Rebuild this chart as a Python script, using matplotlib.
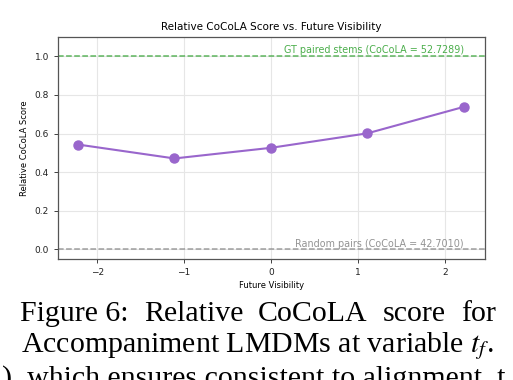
import matplotlib
matplotlib.use('Agg')
import matplotlib.pyplot as plt

plt.rcParams['mathtext.fontset'] = 'stix'

future_vis = [-2.22, -1.11, 0.0, 1.11, 2.22]
rel_score = [0.543, 0.471, 0.526, 0.601, 0.738]
gt_label = 'GT paired stems (CoCoLA = 52.7289)'
rand_label = 'Random pairs (CoCoLA = 42.7010)'
caption_1 = ['Figure 6:', 'Relative', 'CoCoLA', 'score', 'for']
caption_2 = r'Accompaniment LMDMs at variable $t_f$.'
caption_3 = ')  which ensures consistent to alignment  t'

fig = plt.figure(figsize=(5.13, 3.80), dpi=100)
ax = fig.add_axes([0.113, 0.318, 0.832, 0.585])

ax.plot(future_vis, rel_score, color='#9966cc', linewidth=1.5,
        marker='o', markersize=6.5, zorder=3)
ax.axhline(1.0, color='#2ca02c', linestyle='--', linewidth=1.1, alpha=0.75)
ax.axhline(0.0, color='gray', linestyle='--', linewidth=1.1, alpha=0.75)
ax.text(future_vis[-1], 1.005, gt_label, ha='right', va='bottom',
        fontsize=6.9, color='#2ca02c', alpha=0.85)
ax.text(future_vis[-1], 0.005, rand_label, ha='right', va='bottom',
        fontsize=6.9, color='gray', alpha=0.85)

ax.set_ylim(-0.05, 1.1)
ax.set_xlim(-2.45, 2.46)
ax.set_xticks([-2, -1, 0, 1, 2])
ax.set_yticks([0.0, 0.2, 0.4, 0.6, 0.8, 1.0])
ax.grid(True, color='#e6e6e6', linewidth=0.8)
ax.set_axisbelow(True)
ax.tick_params(labelsize=6.5, length=3, width=0.6, colors='#222222')
for s in ax.spines.values():
    s.set_color('#555555')
    s.set_linewidth(0.9)
ax.set_title('Relative CoCoLA Score vs. Future Visibility', fontsize=7.5, pad=5)
ax.set_xlabel('Future Visibility', fontsize=6, labelpad=3)
ax.set_ylabel('Relative CoCoLA Score', fontsize=6, labelpad=4)

# caption; first line justified between x0 and x1 pixels
cap_kw = dict(family='Liberation Serif', fontsize=21.5, va='baseline', ha='left')
x0, x1 = 20, 496
W, H = 513, 380
words = [fig.text(0, 1 - 321 / H, w, **cap_kw) for w in caption_1]
r = fig.canvas.get_renderer()
widths = [t.get_window_extent(r).width for t in words]
gap = (x1 - x0 - sum(widths)) / (len(words) - 1)
x = x0
for t, w in zip(words, widths):
    t.set_x(x / W)
    x += w + gap
fig.text(21 / W, 1 - 352 / H, caption_2, **cap_kw)
fig.text(2 / W, 1 - 386 / H, caption_3, **cap_kw)

fig.savefig('out.png', dpi=100)
